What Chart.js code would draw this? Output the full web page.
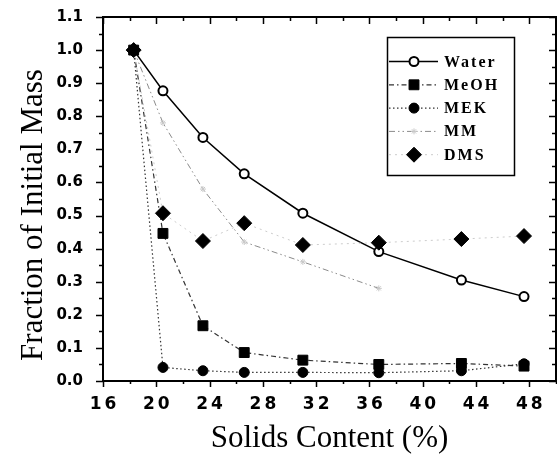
<!DOCTYPE html>
<html>
<head>
<meta charset="utf-8">
<script src="https://cdn.jsdelivr.net/npm/chart.js@4.4.0/dist/chart.umd.min.js"></script>
<style>
  html, body { margin: 0; padding: 0; background: #fff; }
  #wrap { width: 557px; height: 455px; }
</style>
</head>
<body>
<div id="wrap"><canvas id="chart" width="557" height="455"></canvas></div>
<script>
// solids content (%) at each weighing
const solids = [18.3, 20.5, 23.5, 26.6, 31.0, 36.7, 42.9, 47.6];

// fraction of initial mass, one array per solvent
const water = [1.0, 0.877, 0.736, 0.626, 0.507, 0.391, 0.305, 0.255];
const meoh  = [1.0, 0.446, 0.167, 0.086, 0.063, 0.050, 0.053, 0.045];
const mek   = [1.0, 0.041, 0.031, 0.026, 0.026, 0.025, 0.031, 0.052];
const mm    = [1.0, 0.780, 0.580, 0.420, 0.360, 0.280];
const dms   = [1.0, 0.507, 0.423, 0.477, 0.411, 0.418, 0.429, 0.438];

const legendOrder = ['Water', 'MeOH', 'MEK', 'MM', 'DMS'];
const xTicks = [16, 20, 24, 28, 32, 36, 40, 44, 48];
const yTicks = [0.0, 0.1, 0.2, 0.3, 0.4, 0.5, 0.6, 0.7, 0.8, 0.9, 1.0, 1.1];
const xTitle = 'Solids Content (%)';
const yTitle = 'Fraction of Initial Mass';

function pts(ys) {
  return ys.map((v, i) => ({ x: solids[i], y: v }));
}

// frame, ticks (major + minor), tick labels, axis titles
const framePlugin = {
  id: 'frame',
  afterDraw(chart) {
    const { ctx, chartArea: a } = chart;
    const xs = chart.scales.x, ys = chart.scales.y;
    ctx.save();
    ctx.strokeStyle = '#000';
    ctx.lineWidth = 1.5;
    ctx.beginPath();
    for (let v = xs.min; v <= xs.max; v += 2) {
      const px = Math.round(xs.getPixelForValue(v)) + 0.5;
      const major = xTicks.includes(v);
      const len = major ? 6 : 3;
      ctx.moveTo(px, a.bottom); ctx.lineTo(px, a.bottom + len);
      ctx.moveTo(px, a.top); ctx.lineTo(px, a.top + len + 1);
    }
    for (let k = 0; k <= 22; k++) {
      const py = Math.round(ys.getPixelForValue(k * 0.05)) + 0.5;
      const len = k % 2 === 0 ? 7 : 4;
      ctx.moveTo(a.left - len, py); ctx.lineTo(a.left, py);
      ctx.moveTo(a.right - len, py); ctx.lineTo(a.right, py);
    }
    ctx.stroke();
    ctx.lineWidth = 2;
    ctx.strokeRect(a.left, a.top, a.right - a.left, a.bottom - a.top);

    ctx.fillStyle = '#000';
    ctx.font = 'bold 17px "DejaVu Sans"';
    ctx.letterSpacing = '3px';
    ctx.textAlign = 'center';
    ctx.textBaseline = 'alphabetic';
    xTicks.forEach(v => ctx.fillText(String(v), xs.getPixelForValue(v) + 1.5, 409));

    ctx.font = 'bold 15px "DejaVu Sans"';
    ctx.letterSpacing = '0px';
    ctx.textAlign = 'right';
    ctx.textBaseline = 'middle';
    yTicks.forEach(v => ctx.fillText(v.toFixed(1), 83, ys.getPixelForValue(v)));

    ctx.font = '31px "Liberation Serif"';
    ctx.textAlign = 'center';
    ctx.textBaseline = 'alphabetic';
    ctx.fillText(xTitle, (a.left + a.right) / 2, 447);
    ctx.translate(42, 215);
    ctx.rotate(-Math.PI / 2);
    ctx.fillText(yTitle, 0, 0);
    ctx.restore();
  }
};

// boxed legend with a line sample and a marker per series
const legendPlugin = {
  id: 'boxLegend',
  afterDraw(chart) {
    const { ctx } = chart;
    ctx.save();
    ctx.strokeStyle = '#000';
    ctx.lineWidth = 1.5;
    ctx.strokeRect(387.5, 37.5, 127, 138);
    legendOrder.forEach((name, i) => {
      const ds = chart.data.datasets.find(d => d.label === name);
      const yy = 61.5 + i * 23.3;
      ctx.save();
      ctx.strokeStyle = ds.borderColor;
      ctx.lineWidth = ds.borderWidth;
      ctx.setLineDash(ds.borderDash || []);
      ctx.beginPath();
      ctx.moveTo(389, yy); ctx.lineTo(438, yy);
      ctx.stroke();
      ctx.restore();
      ctx.fillStyle = ds.pointBackgroundColor;
      ctx.strokeStyle = ds.pointBorderColor;
      ctx.lineWidth = ds.pointBorderWidth;
      Chart.helpers.drawPoint(ctx, {
        pointStyle: ds.pointStyle, rotation: 0,
        radius: ds.pointRadius, borderWidth: ds.pointBorderWidth
      }, 414, yy);
      ctx.fillStyle = '#000';
      ctx.font = 'bold 16px "Liberation Serif"';
      ctx.letterSpacing = '2px';
      ctx.textAlign = 'left';
      ctx.textBaseline = 'alphabetic';
      ctx.fillText(name, 444, yy + 5);
    });
    ctx.restore();
  }
};

const ctx = document.getElementById('chart').getContext('2d');
new Chart(ctx, {
  type: 'line',
  data: {
    datasets: [
      {
        label: 'DMS', data: pts(dms), order: 0,
        borderColor: '#cccccc', borderWidth: 1, borderDash: [2, 4],
        pointStyle: 'rectRot', pointRadius: 7.5,
        pointBackgroundColor: '#000', pointBorderColor: '#000', pointBorderWidth: 1
      },
      {
        label: 'Water', data: pts(water), order: 1,
        borderColor: '#000', borderWidth: 1.5,
        pointStyle: 'circle', pointRadius: 4.5,
        pointBackgroundColor: '#fff', pointBorderColor: '#000', pointBorderWidth: 2
      },
      {
        label: 'MEK', data: pts(mek), order: 2,
        borderColor: '#333', borderWidth: 1.2, borderDash: [1.5, 2.5],
        pointStyle: 'circle', pointRadius: 5,
        pointBackgroundColor: '#000', pointBorderColor: '#000', pointBorderWidth: 1
      },
      {
        label: 'MeOH', data: pts(meoh), order: 3,
        borderColor: '#333', borderWidth: 1.2, borderDash: [5, 3, 1.5, 3],
        pointStyle: 'rect', pointRadius: 7,
        pointBackgroundColor: '#000', pointBorderColor: '#000', pointBorderWidth: 1
      },
      {
        label: 'MM', data: pts(mm), order: 4,
        borderColor: '#8a8a8a', borderWidth: 1, borderDash: [6, 3, 1.5, 3, 1.5, 3],
        pointStyle: 'star', pointRadius: 3,
        pointBackgroundColor: '#ccc', pointBorderColor: '#c8c8c8', pointBorderWidth: 1
      }
    ]
  },
  options: {
    responsive: false,
    animation: false,
    layout: { autoPadding: false, padding: { left: 103, top: 17, right: 1, bottom: 74 } },
    scales: {
      x: { type: 'linear', min: 16, max: 50, display: false },
      y: { type: 'linear', min: 0, max: 1.1, display: false }
    },
    elements: { line: { tension: 0, fill: false } },
    plugins: { legend: { display: false }, tooltip: { enabled: false } }
  },
  plugins: [framePlugin, legendPlugin]
});
</script>
</body>
</html>
